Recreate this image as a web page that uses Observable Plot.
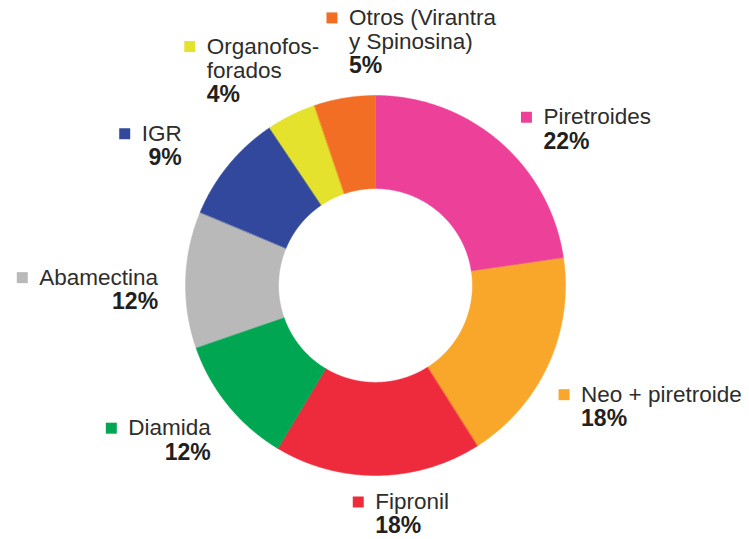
<!DOCTYPE html>
<html>
<head>
<meta charset="utf-8">
<script src="https://cdn.jsdelivr.net/npm/d3@7"></script>
<script src="https://cdn.jsdelivr.net/npm/@observablehq/plot@0.6"></script>
<style>
  html, body { margin: 0; padding: 0; background: #fff; }
  #chart svg { display: block; }
</style>
</head>
<body>
<div id="chart"></div>
<script>
// ---- data ----
const categories = ["Piretroides", "Neo + piretroide", "Fipronil", "Diamida", "Abamectina", "IGR", "Organofosforados", "Otros (Virantra y Spinosina)"];
const shares = [22.7, 18.3, 17.6, 11.1, 11.6, 9.3, 4.2, 5.2];
const pctLabels = ["22%", "18%", "18%", "12%", "12%", "9%", "4%", "5%"];
const labelLines = [["Piretroides"], ["Neo + piretroide"], ["Fipronil"], ["Diamida"], ["Abamectina"], ["IGR"], ["Organofos-", "forados"], ["Otros (Virantra", "y Spinosina)"]];
const colors = ["#EC4099", "#F9A72B", "#EE2B3C", "#00A651", "#B9B9B9", "#32489D", "#E5E22D", "#F26E24"];

// ---- layout (styling, not data) ----
const R = 190;             // outer radius in px
const innerRatio = 0.51;
const labelRadius = 1.15;
const lineGap = 24;        // px
const fontSize = 22.5;
const boldSize = 23;
const labelLayout = [
  {anchor: "start", dx: 25, dy: -3},
  {anchor: "start", dx: 7, dy: 18},
  {anchor: "start", dx: -3, dy: -2},
  {anchor: "end", dx: 5, dy: 5},
  {anchor: "end", dx: 1, dy: -1},
  {anchor: "end", dx: -25, dy: -13},
  {anchor: "start", dx: -72, dy: -43},
  {anchor: "start", dx: 9, dy: -52}
];

// ---- geometry from data ----
const total = d3.sum(shares);
let acc = 0;
const slices = shares.map((v, i) => {
  const a0 = acc / total * 2 * Math.PI;
  acc += v;
  const a1 = acc / total * 2 * Math.PI;
  return {cat: categories[i], a0, a1, mid: (a0 + a1) / 2};
});

const slicePts = [];
for (const s of slices) {
  const n = Math.max(2, Math.ceil((s.a1 - s.a0) / 0.005));
  for (let k = 0; k <= n; k++) {
    const a = s.a0 + (s.a1 - s.a0) * k / n;
    slicePts.push({cat: s.cat, x: Math.sin(a), y: Math.cos(a)});
  }
  for (let k = n; k >= 0; k--) {
    const a = s.a0 + (s.a1 - s.a0) * k / n;
    slicePts.push({cat: s.cat, x: innerRatio * Math.sin(a), y: innerRatio * Math.cos(a)});
  }
}

const ctx = document.createElement("canvas").getContext("2d");
ctx.font = `${fontSize}px 'Liberation Sans', Arial, sans-serif`;

const textRows = [];
const squares = [];
slices.forEach((s, i) => {
  const L = labelLayout[i];
  const bx = labelRadius * Math.sin(s.mid) + L.dx / R;
  const by = labelRadius * Math.cos(s.mid) - L.dy / R;
  const lines = labelLines[i];
  lines.forEach((t, j) => {
    textRows.push({text: t, x: bx, y: by - j * lineGap / R, anchor: L.anchor, bold: false});
  });
  textRows.push({text: pctLabels[i], x: bx, y: by - lines.length * lineGap / R, anchor: L.anchor, bold: true});
  const w = ctx.measureText(lines[0]).width;
  const startX = L.anchor === "start" ? bx : bx - w / R;
  squares.push({cat: s.cat, x: startX - 17 / R, y: by});
});

const textOpts = (anchor, bold) => ({
  x: "x", y: "y", text: "text",
  textAnchor: anchor,
  fontFamily: "'Liberation Sans', Arial, sans-serif",
  fontSize: bold ? boldSize : fontSize,
  fontWeight: bold ? "bold" : "normal",
  fill: bold ? "#231F20" : "#2E2D2C",
  lineAnchor: "middle"
});

const chart = Plot.plot({
  width: 749,
  height: 539,
  margin: 0,
  style: {background: "#fff", overflow: "visible"},
  x: {domain: [-1, 1], range: [375 - R, 375 + R], axis: null},
  y: {domain: [-1, 1], range: [285 + R, 285 - R], axis: null},
  color: {domain: categories, range: colors, type: "categorical"},
  marks: [
    Plot.line(slicePts, {x: "x", y: "y", z: "cat", fill: "cat", stroke: "cat", strokeWidth: 0.5, curve: "linear-closed"}),
    Plot.dot(squares, {x: "x", y: "y", fill: "cat", symbol: "square", r: 6.2, stroke: null}),
    Plot.text(textRows.filter(d => d.anchor === "start" && !d.bold), textOpts("start", false)),
    Plot.text(textRows.filter(d => d.anchor === "start" && d.bold), textOpts("start", true)),
    Plot.text(textRows.filter(d => d.anchor === "end" && !d.bold), textOpts("end", false)),
    Plot.text(textRows.filter(d => d.anchor === "end" && d.bold), textOpts("end", true))
  ]
});
document.getElementById("chart").appendChild(chart);
</script>
</body>
</html>
